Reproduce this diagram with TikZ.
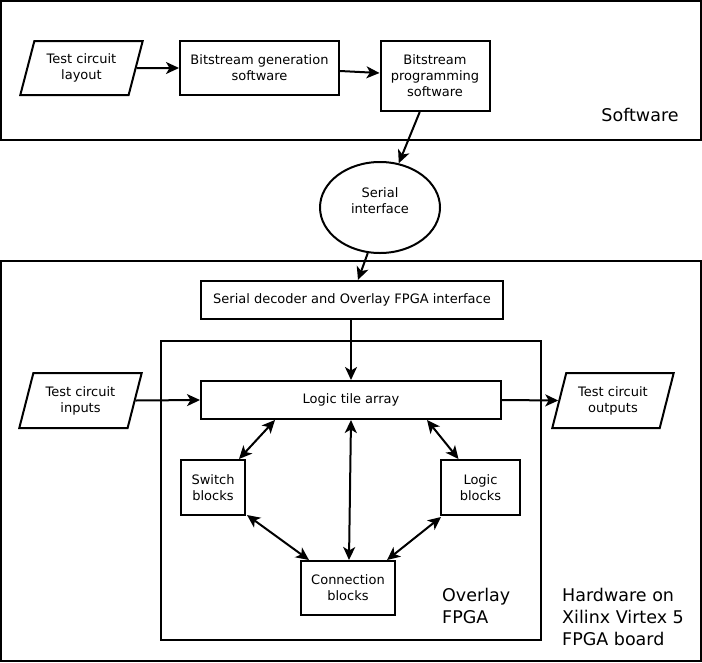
\documentclass[tikz,border=0pt]{standalone}
\usepackage{fontspec}
\setmainfont{DejaVu Sans}
\usetikzlibrary{shapes.geometric,arrows.meta,calc}
\newcommand\smallfnt{\fontsize{13}{16}\selectfont}
\newcommand\bigfnt{\fontsize{17.5}{22}\selectfont}
\begin{document}
\begin{tikzpicture}[x=1pt,y=-1pt,
  region/.style={draw,line width=2.2pt},
  box/.style={draw,line width=2pt,rectangle,inner sep=0pt,align=center,font=\smallfnt},
  para/.style={draw,line width=2pt,trapezium,trapezium left angle=70,trapezium right angle=110,
    trapezium stretches=true,inner sep=0pt,align=center,font=\smallfnt},
  oval/.style={draw,line width=2pt,ellipse,inner sep=0pt},
  tip/.style={Stealth[length=13pt,width=12pt,inset=3.5pt]},
  conn/.style={line width=2pt,-{Stealth[length=13pt,width=12pt,inset=3.5pt]}},
  biconn/.style={line width=2pt,{Stealth[length=13pt,width=12pt,inset=3.5pt]}-{Stealth[length=13pt,width=12pt,inset=3.5pt]}},
  biglabel/.style={inner sep=0pt,align=left,font=\bigfnt}]
\useasboundingbox (0,0) rectangle (702,662);
% regions
\draw[region] (1,1) rectangle (701,140);
\draw[region] (1,261) rectangle (701,661);
\draw[line width=2pt] (161,341) rectangle (541,640);
\node[biglabel] (swlabel) at (640,115) {Software};
\node[biglabel,anchor=west] (hwlabel) at (562,617.4) {Hardware on\\Xilinx Virtex 5\\FPGA board};
\node[biglabel,anchor=west] (ovlabel) at (442,606.4) {Overlay\\FPGA};
% nodes
\node[para,minimum width=123pt,minimum height=54pt] (layout) at (81.5,68) {Test circuit\\layout};
\node[box,minimum width=159pt,minimum height=54pt] (gen) at (259.5,68) {Bitstream generation\\software};
\node[box,minimum width=109pt,minimum height=70pt] (prog) at (435,76) {Bitstream\\programming\\software};
\node[oval,minimum width=120pt,minimum height=91pt,
  label={[yshift=7pt,inner sep=0pt,align=center,font=\smallfnt]center:Serial\\interface}] (serial) at (380,207.5) {};
\node[box,minimum width=302pt,minimum height=38pt] (decoder) at (352,300) {Serial decoder and Overlay FPGA interface};
\node[box,minimum width=300pt,minimum height=38pt] (tile) at (351,400) {Logic tile array};
\node[para,minimum width=123pt,minimum height=55pt] (inputs) at (80.5,400.5) {Test circuit\\inputs};
\node[para,minimum width=122pt,minimum height=55pt] (outputs) at (613,400.5) {Test circuit\\outputs};
\node[box,minimum width=64pt,minimum height=55pt] (switch) at (213,487.5) {Switch\\blocks};
\node[box,minimum width=79pt,minimum height=55pt] (logicb) at (480.5,487.5) {Logic\\blocks};
\node[box,minimum width=94pt,minimum height=54pt] (connb) at (348,588) {Connection\\blocks};
% connectors
\draw[conn] (layout.east) -- (gen.west);
\draw[conn] ($(gen.east)+(0,3)$) -- ($(prog.west)+(0,-3)$);
\draw[conn] (prog.247) -- (serial.67);
\draw[conn] (serial.255) -- ($(decoder.north)+(6,0)$);
\draw[conn] ($(decoder.south)+(-1,0)$) -- (tile.north);
\draw[conn] (inputs.east) -- (tile.west);
\draw[conn] (tile.east) -- (outputs.west);
\draw[biconn] (tile.south) -- ($(connb.north)+(1,0)$);
\draw[biconn] ($(tile.south)+(-76,0)$) -- ($(switch.north)+(26,0)$);
\draw[biconn] ($(switch.south east)+(1,-1)$) -- ($(connb.north west)+(9,0)$);
\draw[biconn] ($(tile.south)+(76,0)$) -- ($(logicb.north)+(-22,0)$);
\draw[biconn] ($(logicb.south west)+(1,1)$) -- ($(connb.north east)+(-9,0)$);
\end{tikzpicture}
\end{document}
